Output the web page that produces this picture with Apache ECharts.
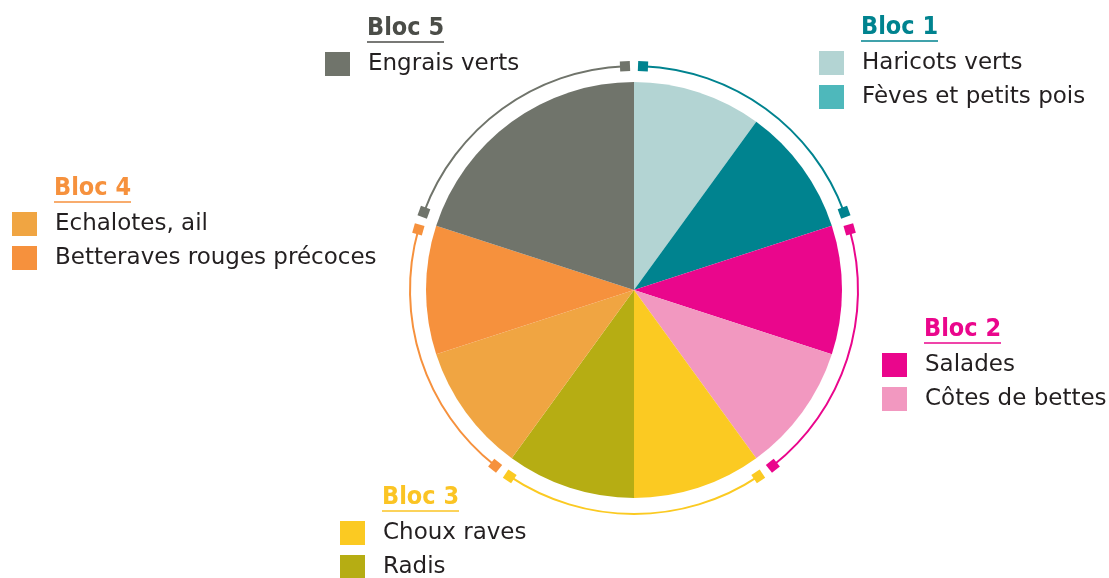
<!DOCTYPE html>
<html lang="fr" style="height: 100%">
<head>
    <meta charset="UTF-8">
    <title>Rotation des cultures</title>
    <script src="https://cdn.jsdelivr.net/npm/echarts@6/dist/echarts.min.js"></script>
</head>
<body style="height: 100%; margin: 0; background: #fff">
<div id="container" style="width: 1109px; height: 578px"></div>
<script type="text/javascript">
    // données
    var crops = ['Haricots verts', 'Fèves et petits pois', 'Salades', 'Côtes de bettes',
        'Choux raves', 'Radis', 'Echalotes, ail', 'Betteraves rouges précoces', 'Engrais verts'];
    var shares = [10, 10, 10, 10, 10, 10, 10, 10, 20];
    var cropBloc = [0, 0, 1, 1, 2, 2, 3, 3, 4];
    var blocNames = ['Bloc 1', 'Bloc 2', 'Bloc 3', 'Bloc 4', 'Bloc 5'];

    // couleurs
    var sliceColors = ['#b3d4d3', '#00838f', '#ea068c', '#f298c0', '#fbca22',
        '#b6ad13', '#f0a542', '#f6913d', '#70746b'];
    var swatchColors = ['#b3d4d3', '#4eb8bb', '#ea068c', '#f298c0', '#fbca22',
        '#b6ad13', '#f0a542', '#f6913d', '#70746b'];
    var blocColors = ['#00838f', '#ea068c', '#fbca22', '#f6913d', '#70746b'];
    var titleColors = ['#00838f', '#ea068c', '#fbc424', '#f6913d', '#4b4d48'];

    // mise en page des légendes : [gauche du carré, haut du carré]
    var legendPos = [[819, 51], [882, 353], [340, 521], [12, 212], [325, 52]];

    var FONT = '"DejaVu Sans", "Noto Sans", sans-serif';
    var TITLE_FONT = '"DejaVu Sans Condensed", "DejaVu Sans", sans-serif';
    var center = [634, 290];
    var ringR = 224;
    var gapUnits = 0.64; // demi-écart entre blocs (sur 100)

    var dom = document.getElementById('container');
    var myChart = echarts.init(dom);

    var total = shares.reduce(function (a, b) { return a + b; }, 0);
    var blocSums = blocNames.map(function (n, b) {
        var s = 0;
        shares.forEach(function (v, i) { if (cropBloc[i] === b) s += v; });
        return s;
    });

    // extrémités des arcs (en % du tour)
    var markers = [];
    var acc = 0;
    blocSums.forEach(function (s, b) {
        var a0 = (acc / total) * 100 + gapUnits;
        var a1 = ((acc + s) / total) * 100 - gapUnits;
        [a0, a1].forEach(function (a) {
            markers.push({
                value: [1, a],
                symbolRotate: -a * 3.6,
                itemStyle: {color: blocColors[b], opacity: 1}
            });
        });
        acc += s;
    });

    var titles = [], legends = [], graphics = [];
    blocNames.forEach(function (name, b) {
        var p = legendPos[b];
        titles.push({
            text: name,
            left: p[0] + 42,
            top: p[1] - 36,
            padding: 0,
            textStyle: {color: titleColors[b], fontSize: 25, fontWeight: 'bold', fontFamily: TITLE_FONT}
        });
        graphics.push({
            type: 'line',
            shape: {x1: p[0] + 42, y1: p[1] - 10, x2: p[0] + 119, y2: p[1] - 10},
            style: {stroke: titleColors[b], lineWidth: 1.5},
            silent: true
        });
        var items = [];
        crops.forEach(function (c, i) {
            if (cropBloc[i] === b) items.push({name: c, itemStyle: {color: swatchColors[i]}});
        });
        legends.push({
            data: items,
            orient: 'vertical',
            left: p[0],
            top: p[1],
            height: 120,
            padding: 0,
            icon: 'rect',
            itemWidth: 25,
            itemHeight: 24,
            itemGap: 10,
            selectedMode: false,
            textStyle: {color: '#231f20', fontSize: 23, fontFamily: FONT, padding: [0, 0, 0, 13]}
        });
    });

    var option = {
        backgroundColor: '#fff',
        animation: false,
        title: titles,
        legend: legends,
        graphic: graphics,
        polar: {center: center, radius: ringR},
        angleAxis: {min: 0, max: 100, startAngle: 90, clockwise: true, show: false},
        radiusAxis: {min: 0, max: 1, show: false},
        series: [{
            type: 'pie',
            center: center,
            radius: [0, 208],
            startAngle: 90,
            clockwise: true,
            silent: true,
            label: {show: false},
            labelLine: {show: false},
            data: crops.map(function (c, i) {
                return {name: c, value: shares[i], itemStyle: {color: sliceColors[i]}};
            })
        }, {
            type: 'pie',
            center: center,
            radius: [ringR - 1, ringR + 1],
            startAngle: 90,
            clockwise: true,
            padAngle: gapUnits * 2 * 3.6,
            silent: true,
            label: {show: false},
            labelLine: {show: false},
            data: blocNames.map(function (n, b) {
                return {name: n, value: blocSums[b], itemStyle: {color: blocColors[b]}};
            })
        }, {
            type: 'scatter',
            coordinateSystem: 'polar',
            symbol: 'rect',
            symbolSize: 10,
            silent: true,
            data: markers
        }]
    };

    myChart.setOption(option);
</script>
</body>
</html>
